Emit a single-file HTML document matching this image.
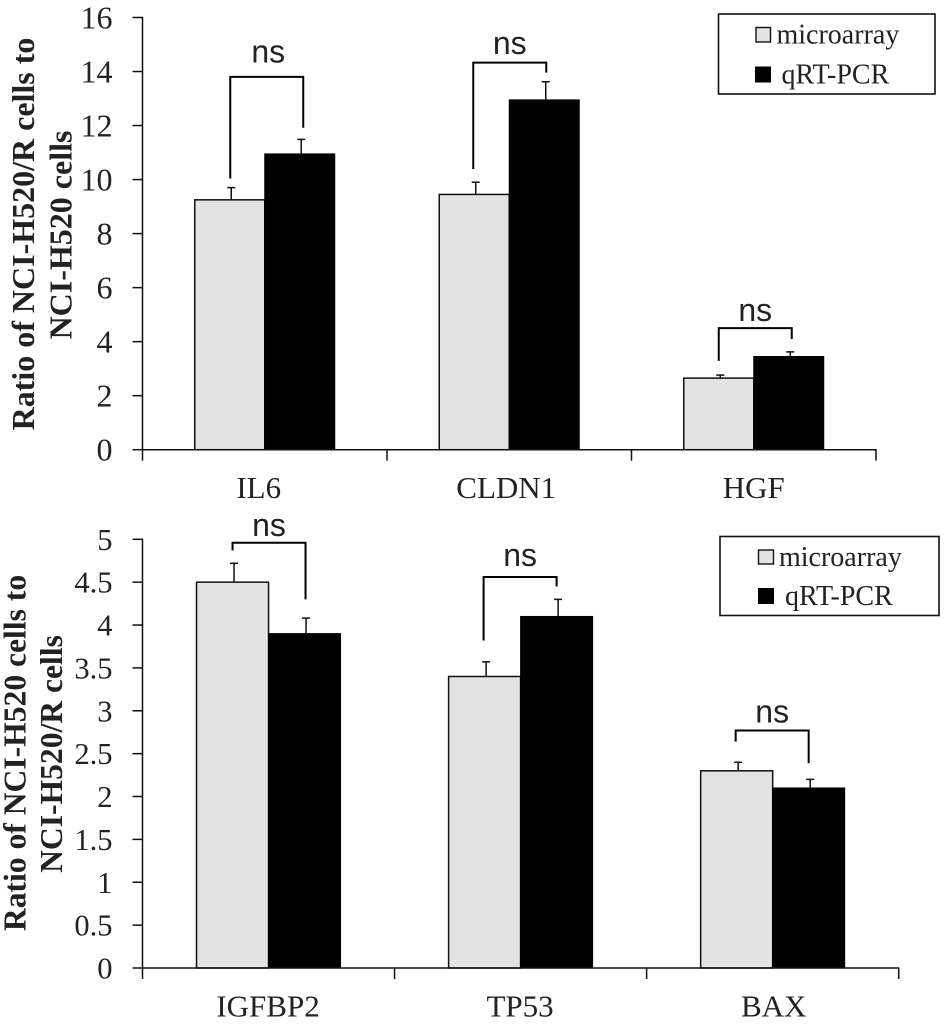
<!DOCTYPE html>
<html lang="en">
<head>
<meta charset="utf-8">
<title>Microarray and qRT-PCR ratios</title>
<style>
html,body{margin:0;padding:0;background:#fff;}
svg{display:block;}
.tick{font-family:"Liberation Serif",serif;fill:#222;text-anchor:end;}
.cat{font-family:"Liberation Serif",serif;font-size:31px;fill:#222;text-anchor:middle;}
.ttl{font-family:"Liberation Serif",serif;font-weight:bold;fill:#222;text-anchor:middle;}
.leg{font-family:"Liberation Serif",serif;font-size:28px;fill:#222;}
.ns{font-family:"Liberation Sans",sans-serif;font-size:32px;fill:#222;text-anchor:middle;}
</style>
</head>
<body>
<svg id="figure" width="945" height="1025" viewBox="0 0 945 1025" xmlns="http://www.w3.org/2000/svg">
  <rect x="0" y="0" width="945" height="1025" fill="#fff"/>
  <g id="top-chart"></g>
  <g id="bottom-chart"></g>

  <text class="ttl" font-size="32" transform="translate(34 234) rotate(-90)">Ratio of NCI-H520/R cells to</text>
  <text class="ttl" font-size="32" transform="translate(71.5 235) rotate(-90)">NCI-H520 cells</text>
  <text class="ttl" font-size="31.6" transform="translate(25.5 753) rotate(-90)">Ratio of NCI-H520 cells to</text>
  <text class="ttl" font-size="31.6" transform="translate(62 754) rotate(-90)">NCI-H520/R cells</text>

  <g>
    <rect x="718.5" y="14" width="216.5" height="80" fill="#fff" stroke="#111" stroke-width="1.6"/>
    <rect x="756" y="27.5" width="14.5" height="14.5" fill="#e3e3e3" stroke="#111" stroke-width="1.4"/>
    <text class="leg" x="776.5" y="43.5">microarray</text>
    <rect x="755" y="66.5" width="16" height="16" fill="#000"/>
    <text class="leg" x="781.5" y="83.5">qRT-PCR</text>
  </g>
  <g>
    <rect x="720" y="536.5" width="219" height="79" fill="#fff" stroke="#111" stroke-width="1.6"/>
    <rect x="758.5" y="550" width="15" height="14" fill="#e3e3e3" stroke="#111" stroke-width="1.4"/>
    <text class="leg" x="779" y="566">microarray</text>
    <rect x="758" y="588" width="16" height="16" fill="#000"/>
    <text class="leg" x="785" y="605">qRT-PCR</text>
  </g>
</svg>
<script>
// Top chart data
var topCategories = ['IL6', 'CLDN1', 'HGF'];
var topMicroarray = [9.25, 9.45, 2.65];
var topQrtPcr = [10.95, 12.95, 3.45];
var topMicroarrayErr = [0.45, 0.45, 0.11];
var topQrtPcrErr = [0.54, 0.67, 0.17];
var topTickLabels = ['0', '2', '4', '6', '8', '10', '12', '14', '16'];
var topBracketLevel = [13.8, 14.33, 4.5];
var topBracketLeftEnd = [10.04, 10.39, 3.29];
var topBracketRightEnd = [11.92, 13.96, 4.1];
var topNsLevel = [14.33, 14.65, 4.76];

// Bottom chart data
var bottomCategories = ['IGFBP2', 'TP53', 'BAX'];
var bottomMicroarray = [4.5, 3.4, 2.3];
var bottomQrtPcr = [3.9, 4.1, 2.1];
var bottomMicroarrayErr = [0.22, 0.17, 0.1];
var bottomQrtPcrErr = [0.18, 0.2, 0.1];
var bottomTickLabels = ['0', '0.5', '1', '1.5', '2', '2.5', '3', '3.5', '4', '4.5', '5'];
var bottomBracketLevel = [4.96, 4.56, 2.77];
var bottomBracketLeftEnd = [4.87, 3.82, 2.64];
var bottomBracketRightEnd = [4.3, 4.45, 2.39];
var bottomNsLevel = [5.04, 4.69, 2.866];

var SVG_NS = 'http://www.w3.org/2000/svg';

function make(parent, tag, attrs, text) {
  var el = document.createElementNS(SVG_NS, tag);
  for (var k in attrs) { el.setAttribute(k, attrs[k]); }
  if (text !== undefined) { el.textContent = text; }
  parent.appendChild(el);
  return el;
}

function drawChart(o) {
  var root = document.getElementById(o.rootId);
  var maxV = parseFloat(o.ticks[o.ticks.length - 1]);
  function yScale(v) { return o.y0 - (v / maxV) * (o.y0 - o.yTop); }
  var band = (o.xEnd - o.x0) / o.categories.length;
  function bandCenter(i) { return o.x0 + band * (i + 0.5); }
  var AXIS = '#111';

  o.categories.forEach(function (cat, i) {
    var cx = bandCenter(i);

    var g1 = make(root, 'rect', {
      x: cx - o.barW, y: yScale(o.micro[i]), width: o.barW, height: o.y0 - yScale(o.micro[i]),
      fill: '#e3e3e3', stroke: '#111', 'stroke-width': 1.5
    });
    
    

    var g2 = make(root, 'rect', {
      x: cx, y: yScale(o.qrt[i]), width: o.barW, height: o.y0 - yScale(o.qrt[i]),
      fill: '#000', stroke: '#000', 'stroke-width': 1
    });
    
    

    [[cx - o.barW / 2 + 1.5, o.micro[i], o.microErr[i], 'microarray'],
     [cx + o.barW / 2 + 1.5, o.qrt[i], o.qrtErr[i], 'qrt-pcr']].forEach(function (e) {
      var top = yScale(e[1] + e[2]);
      var d = 'M' + e[0] + ' ' + yScale(e[1]) + 'V' + top + 'M' + (e[0] - 4) + ' ' + top + 'H' + (e[0] + 4);
      var eb = make(root, 'path', { d: d, fill: 'none', stroke: '#111', 'stroke-width': 1.5 });
      
      
    });

    var lx = cx + o.bracketDx[i];
    var rx = lx + 73;
    var by = yScale(o.bracketLevel[i]);
    var br = make(root, 'path', {
      d: 'M' + lx + ' ' + yScale(o.bracketLeft[i]) + 'V' + by + 'H' + rx + 'V' + yScale(o.bracketRight[i]),
      fill: 'none', stroke: '#000', 'stroke-width': 2
    });
    
    

    var ns = make(root, 'text', { 'class': 'ns', x: lx + 36.5 + o.nsDx[i], y: yScale(o.nsLevel[i]) }, 'ns');
    
    

    var lab = make(root, 'text', { 'class': 'cat', x: cx + o.labelDx[i], y: o.labelY }, cat);
    
    
  });

  var yAxis = make(root, 'line', { x1: o.x0, x2: o.x0, y1: o.yTop - 0.7, y2: o.y0 + 11, stroke: AXIS, 'stroke-width': 1.5 });
  
  

  var xAxis = make(root, 'line', { x1: o.x0, x2: o.xEnd + 0.7, y1: o.y0, y2: o.y0, stroke: AXIS, 'stroke-width': 1.5 });
  
  

  for (var c = 1; c <= o.categories.length; c++) {
    var xt = make(root, 'line', { x1: o.x0 + band * c, x2: o.x0 + band * c, y1: o.y0, y2: o.y0 + 11, stroke: AXIS, 'stroke-width': 1.5 });
    
    
  }

  o.ticks.forEach(function (t) {
    var y = yScale(parseFloat(t));
    var tk = make(root, 'line', { x1: o.x0 - 10, x2: o.x0, y1: y, y2: y, stroke: AXIS, 'stroke-width': 1.5 });
    
    

    var tl = make(root, 'text', { 'class': 'tick', x: 112.5, y: y + o.tickDy, 'font-size': o.tickSize }, t);
    
    
  });
}

drawChart({
  rootId: 'top-chart',
  categories: topCategories, micro: topMicroarray, qrt: topQrtPcr,
  microErr: topMicroarrayErr, qrtErr: topQrtPcrErr, ticks: topTickLabels,
  bracketLevel: topBracketLevel, bracketLeft: topBracketLeftEnd, bracketRight: topBracketRightEnd,
  nsLevel: topNsLevel,
  x0: 142.5, xEnd: 876, y0: 449.7, yTop: 17.5, barW: 70,
  tickSize: 32, tickDy: 11, labelY: 498,
  labelDx: [-6, -3, 0], bracketDx: [-34.5, -36, -35], nsDx: [1.5, 0, 0]
});

drawChart({
  rootId: 'bottom-chart',
  categories: bottomCategories, micro: bottomMicroarray, qrt: bottomQrtPcr,
  microErr: bottomMicroarrayErr, qrtErr: bottomQrtPcrErr, ticks: bottomTickLabels,
  bracketLevel: bottomBracketLevel, bracketLeft: bottomBracketLeftEnd, bracketRight: bottomBracketRightEnd,
  nsLevel: bottomNsLevel,
  x0: 142.5, xEnd: 898.7, y0: 968, yTop: 539.3, barW: 72,
  tickSize: 30.5, tickDy: 10.5, labelY: 1016.5,
  labelDx: [-0.5, -0.5, 1], bracketDx: [-36, -37, -37], nsDx: [0, 0, 0]
});
</script>
</body>
</html>
